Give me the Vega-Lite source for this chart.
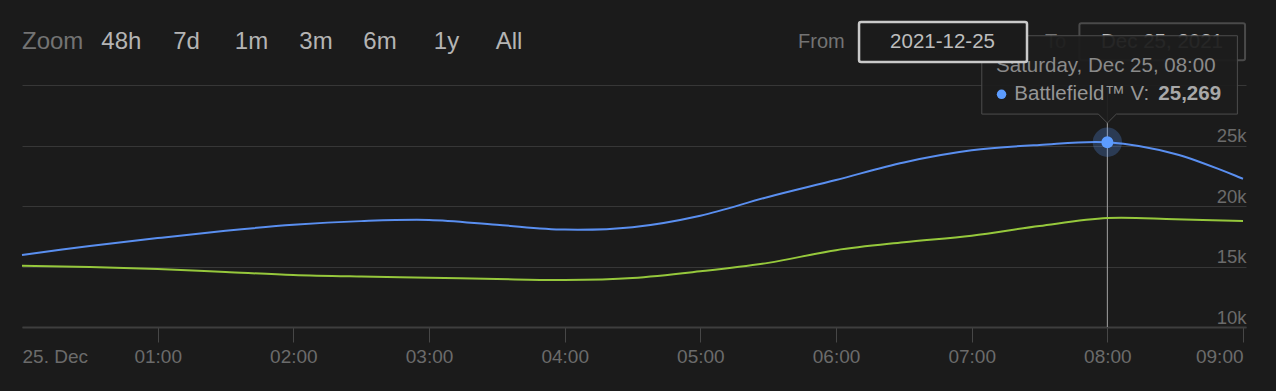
{
  "$schema": "https://vega.github.io/schema/vega-lite/v6.json",
  "autosize": {"type": "none"},
  "width": 1224,
  "height": 242,
  "padding": {"left": 22, "top": 85, "right": 30, "bottom": 64},
  "background": "#1b1b1b",
  "config": {"view": {"stroke": null}, "font": "Liberation Sans"},
  "datasets": {
    "players": [
      {"time": "2021-12-25T00:00:00Z", "game": "Battlefield™ V", "players": 15950},
      {"time": "2021-12-25T00:30:00Z", "game": "Battlefield™ V", "players": 16700},
      {"time": "2021-12-25T01:00:00Z", "game": "Battlefield™ V", "players": 17350},
      {"time": "2021-12-25T01:30:00Z", "game": "Battlefield™ V", "players": 17950},
      {"time": "2021-12-25T02:00:00Z", "game": "Battlefield™ V", "players": 18450},
      {"time": "2021-12-25T02:30:00Z", "game": "Battlefield™ V", "players": 18750},
      {"time": "2021-12-25T03:00:00Z", "game": "Battlefield™ V", "players": 18850},
      {"time": "2021-12-25T03:30:00Z", "game": "Battlefield™ V", "players": 18450},
      {"time": "2021-12-25T04:00:00Z", "game": "Battlefield™ V", "players": 18050},
      {"time": "2021-12-25T04:30:00Z", "game": "Battlefield™ V", "players": 18250},
      {"time": "2021-12-25T05:00:00Z", "game": "Battlefield™ V", "players": 19200},
      {"time": "2021-12-25T05:30:00Z", "game": "Battlefield™ V", "players": 20750},
      {"time": "2021-12-25T06:00:00Z", "game": "Battlefield™ V", "players": 22150},
      {"time": "2021-12-25T06:30:00Z", "game": "Battlefield™ V", "players": 23600},
      {"time": "2021-12-25T07:00:00Z", "game": "Battlefield™ V", "players": 24600},
      {"time": "2021-12-25T07:30:00Z", "game": "Battlefield™ V", "players": 25050},
      {"time": "2021-12-25T08:00:00Z", "game": "Battlefield™ V", "players": 25269},
      {"time": "2021-12-25T08:30:00Z", "game": "Battlefield™ V", "players": 24300},
      {"time": "2021-12-25T09:00:00Z", "game": "Battlefield™ V", "players": 22250},
      {"time": "2021-12-25T00:00:00Z", "game": "Other", "players": 15070},
      {"time": "2021-12-25T00:30:00Z", "game": "Other", "players": 14950},
      {"time": "2021-12-25T01:00:00Z", "game": "Other", "players": 14800},
      {"time": "2021-12-25T01:30:00Z", "game": "Other", "players": 14550},
      {"time": "2021-12-25T02:00:00Z", "game": "Other", "players": 14300},
      {"time": "2021-12-25T02:30:00Z", "game": "Other", "players": 14170},
      {"time": "2021-12-25T03:00:00Z", "game": "Other", "players": 14080},
      {"time": "2021-12-25T03:30:00Z", "game": "Other", "players": 13960},
      {"time": "2021-12-25T04:00:00Z", "game": "Other", "players": 13880},
      {"time": "2021-12-25T04:30:00Z", "game": "Other", "players": 14050},
      {"time": "2021-12-25T05:00:00Z", "game": "Other", "players": 14600},
      {"time": "2021-12-25T05:30:00Z", "game": "Other", "players": 15300},
      {"time": "2021-12-25T06:00:00Z", "game": "Other", "players": 16350},
      {"time": "2021-12-25T06:30:00Z", "game": "Other", "players": 17000},
      {"time": "2021-12-25T07:00:00Z", "game": "Other", "players": 17550},
      {"time": "2021-12-25T07:30:00Z", "game": "Other", "players": 18350},
      {"time": "2021-12-25T08:00:00Z", "game": "Other", "players": 19000},
      {"time": "2021-12-25T08:30:00Z", "game": "Other", "players": 18900},
      {"time": "2021-12-25T09:00:00Z", "game": "Other", "players": 18760}
    ],
    "controls": [
      {"kind": "range-caption", "text": "Zoom", "time": "2021-12-25T00:00:00Z", "level": 32975},
      {"kind": "range-button", "text": "48h", "time": "2021-12-25T00:43:55Z", "level": 32975},
      {"kind": "range-button", "text": "7d", "time": "2021-12-25T01:12:45Z", "level": 32975},
      {"kind": "range-button", "text": "1m", "time": "2021-12-25T01:41:30Z", "level": 32975},
      {"kind": "range-button", "text": "3m", "time": "2021-12-25T02:10:00Z", "level": 32975},
      {"kind": "range-button", "text": "6m", "time": "2021-12-25T02:38:20Z", "level": 32975},
      {"kind": "range-button", "text": "1y", "time": "2021-12-25T03:07:44Z", "level": 32975},
      {"kind": "range-button", "text": "All", "time": "2021-12-25T03:35:23Z", "level": 32975},
      {"kind": "input-caption", "text": "From", "time": "2021-12-25T05:43:12Z", "level": 33058},
      {"kind": "input-caption", "text": "To", "time": "2021-12-25T07:32:26Z", "level": 33058}
    ],
    "inputs": [
      {"name": "From", "text": "2021-12-25", "start": "2021-12-25T06:10:11Z", "end": "2021-12-25T07:24:28Z", "mid": "2021-12-25T06:47:06Z", "top": 35207, "bottom": 31901, "level": 33058},
      {"name": "To", "text": "Dec 25, 2021", "start": "2021-12-25T07:47:38Z", "end": "2021-12-25T09:00:54Z", "mid": "2021-12-25T08:24:11Z", "top": 35099, "bottom": 32036, "level": 33058}
    ]
  },
  "layer": [
    {
      "data": {"name": "players"},
      "transform": [{"filter": "datum.game == 'Battlefield™ V' && utchours(toDate(datum.time)) == 8 && utcminutes(toDate(datum.time)) == 0"}],
      "mark": {"type": "rule", "color": "#a3a3a3", "strokeWidth": 1},
      "encoding": {"x": {"field": "time", "type": "temporal", "title": null}}
    },
    {
      "data": {"name": "players"},
      "mark": {"type": "line", "interpolate": "catmull-rom", "strokeWidth": 2},
      "encoding": {
        "x": {
          "field": "time", "type": "temporal", "title": null,
          "scale": {"type": "utc", "nice": false, "domain": [1640390400000, 1640422879000]},
          "axis": {
            "grid": false,
            "values": [1640390400000, 1640394000000, 1640397600000, 1640401200000, 1640404800000, 1640408400000, 1640412000000, 1640415600000, 1640419200000, 1640422800000],
            "labelExpr": "utchours(datum.value) == 0 ? '25. Dec' : utcFormat(datum.value, '%H:%M')",
            "labelFlush": 5,
            "labelFont": "Liberation Sans", "labelFontSize": 19, "labelColor": "#6b6b6b",
            "labelBaseline": "alphabetic", "labelPadding": 20,
            "labelOverlap": false, "labelBound": false,
            "tickSize": 15, "tickColor": "#474747", "tickWidth": 1,
            "tickOpacity": {"condition": {"test": "utchours(datum.value) == 0", "value": 0}, "value": 1},
            "domainColor": "#3e3e3e", "domainWidth": 2
          }
        },
        "y": {
          "field": "players", "type": "quantitative", "title": null,
          "scale": {"domain": [10000, 30000], "nice": false, "zero": false},
          "axis": {
            "orient": "right", "values": [10000, 15000, 20000, 25000, 30000],
            "grid": true, "gridColor": "#373737", "gridWidth": 1,
            "domain": false, "ticks": false, "tickSize": 0,
            "labelExpr": "datum.value >= 30000 ? '' : (datum.value / 1000) + 'k'",
            "labelAlign": "right", "labelBaseline": "alphabetic", "labelPadding": 0, "labelOffset": -4,
            "labelFont": "Liberation Sans", "labelFontSize": 18.5, "labelColor": "#6b6b6b",
            "labelFlush": false, "labelOverlap": false, "labelBound": false
          }
        },
        "color": {"field": "game", "type": "nominal", "legend": null,
          "scale": {"domain": ["Battlefield™ V", "Other"], "range": ["#5a8ff0", "#96c83c"]}}
      }
    },
    {
      "data": {"name": "players"},
      "transform": [{"filter": "datum.game == 'Battlefield™ V' && utchours(toDate(datum.time)) == 8 && utcminutes(toDate(datum.time)) == 0"}],
      "mark": {"type": "point", "shape": "circle", "filled": true, "fill": "#5c9cff", "opacity": 0.25, "size": 860},
      "encoding": {
        "x": {"field": "time", "type": "temporal", "title": null},
        "y": {"field": "players", "type": "quantitative", "title": null}
      }
    },
    {
      "data": {"name": "controls"},
      "transform": [{"filter": "datum.kind == 'range-caption'"}],
      "mark": {"type": "text", "align": "left", "baseline": "alphabetic", "font": "Liberation Sans", "fontSize": 24, "color": "#737373"},
      "encoding": {
        "x": {"field": "time", "type": "temporal", "title": null},
        "y": {"field": "level", "type": "quantitative", "title": null},
        "text": {"field": "text"}
      }
    },
    {
      "data": {"name": "controls"},
      "transform": [{"filter": "datum.kind == 'range-button'"}],
      "mark": {"type": "text", "align": "center", "baseline": "alphabetic", "font": "Liberation Sans", "fontSize": 24, "color": "#b4b4b4"},
      "encoding": {
        "x": {"field": "time", "type": "temporal", "title": null},
        "y": {"field": "level", "type": "quantitative", "title": null},
        "text": {"field": "text"}
      }
    },
    {
      "data": {"name": "controls"},
      "transform": [{"filter": "datum.kind == 'input-caption'"}],
      "mark": {"type": "text", "align": "left", "baseline": "alphabetic", "font": "Liberation Sans", "fontSize": 20, "color": "#737373"},
      "encoding": {
        "x": {"field": "time", "type": "temporal", "title": null},
        "y": {"field": "level", "type": "quantitative", "title": null},
        "text": {"field": "text"}
      }
    },
    {
      "data": {"name": "inputs"},
      "transform": [{"filter": "datum.name == 'To'"}],
      "mark": {"type": "rect", "fill": "#1b1b1b", "stroke": "#4a4a4a", "strokeWidth": 2, "cornerRadius": 2},
      "encoding": {
        "x": {"field": "start", "type": "temporal", "title": null},
        "x2": {"field": "end"},
        "y": {"field": "top", "type": "quantitative", "title": null},
        "y2": {"field": "bottom"}
      }
    },
    {
      "data": {"name": "inputs"},
      "transform": [{"filter": "datum.name == 'To'"}],
      "mark": {"type": "text", "align": "center", "baseline": "alphabetic", "font": "Liberation Sans", "fontSize": 20.5, "color": "#bdbdbd"},
      "encoding": {
        "x": {"field": "mid", "type": "temporal", "title": null},
        "y": {"field": "level", "type": "quantitative", "title": null},
        "text": {"field": "text"}
      }
    },
    {
      "data": {"name": "players"},
      "transform": [{"filter": "datum.game == 'Battlefield™ V' && utchours(toDate(datum.time)) == 8 && utcminutes(toDate(datum.time)) == 0"}],
      "mark": {"type": "point", "shape": "M -0.981 -0.832 L 1.016 -0.832 L 1.016 -0.22 L 0.07 -0.22 L 0 -0.15 L -0.07 -0.22 L -0.981 -0.22 Z", "size": 65536, "fill": "#1d1d1d", "fillOpacity": 0.94, "stroke": "#4d4d4d", "strokeWidth": 1, "opacity": 1},
      "encoding": {
        "x": {"field": "time", "type": "temporal", "title": null},
        "y": {"field": "players", "type": "quantitative", "title": null}
      }
    },
    {
      "data": {"name": "players"},
      "transform": [
        {"filter": "datum.game == 'Battlefield™ V' && utchours(toDate(datum.time)) == 8 && utcminutes(toDate(datum.time)) == 0"},
        {"calculate": "utcFormat(toDate(datum.time), '%A, %b %d, %H:%M')", "as": "stamp"}
      ],
      "mark": {"type": "text", "align": "left", "baseline": "alphabetic", "font": "Liberation Sans", "fontSize": 20.5, "color": "#8a8a8a", "dx": -111.3, "dy": -70.5},
      "encoding": {
        "x": {"field": "time", "type": "temporal", "title": null},
        "y": {"field": "players", "type": "quantitative", "title": null},
        "text": {"field": "stamp"}
      }
    },
    {
      "data": {"name": "players"},
      "transform": [{"filter": "datum.game == 'Battlefield™ V' && utchours(toDate(datum.time)) == 8 && utcminutes(toDate(datum.time)) == 0"}],
      "mark": {"type": "point", "shape": "circle", "filled": true, "fill": "#5c9cff", "opacity": 1, "size": 90, "xOffset": -105.8, "yOffset": -47.9},
      "encoding": {
        "x": {"field": "time", "type": "temporal", "title": null},
        "y": {"field": "players", "type": "quantitative", "title": null}
      }
    },
    {
      "data": {"name": "players"},
      "transform": [
        {"filter": "datum.game == 'Battlefield™ V' && utchours(toDate(datum.time)) == 8 && utcminutes(toDate(datum.time)) == 0"},
        {"calculate": "datum.game + ':'", "as": "series"}
      ],
      "mark": {"type": "text", "align": "left", "baseline": "alphabetic", "font": "Liberation Sans", "fontSize": 20.5, "color": "#969696", "dx": -93, "dy": -42.2},
      "encoding": {
        "x": {"field": "time", "type": "temporal", "title": null},
        "y": {"field": "players", "type": "quantitative", "title": null},
        "text": {"field": "series"}
      }
    },
    {
      "data": {"name": "players"},
      "transform": [{"filter": "datum.game == 'Battlefield™ V' && utchours(toDate(datum.time)) == 8 && utcminutes(toDate(datum.time)) == 0"}],
      "mark": {"type": "text", "align": "right", "baseline": "alphabetic", "font": "Liberation Sans", "fontSize": 20.5, "fontWeight": "bold", "color": "#a8a8a8", "dx": 113.7, "dy": -42.2},
      "encoding": {
        "x": {"field": "time", "type": "temporal", "title": null},
        "y": {"field": "players", "type": "quantitative", "title": null},
        "text": {"field": "players", "type": "quantitative", "format": ",d"}
      }
    },
    {
      "data": {"name": "inputs"},
      "transform": [{"filter": "datum.name == 'From'"}],
      "mark": {"type": "rect", "fill": "#1b1b1b", "stroke": "#c9c9c9", "strokeWidth": 2.5, "cornerRadius": 2},
      "encoding": {
        "x": {"field": "start", "type": "temporal", "title": null},
        "x2": {"field": "end"},
        "y": {"field": "top", "type": "quantitative", "title": null},
        "y2": {"field": "bottom"}
      }
    },
    {
      "data": {"name": "inputs"},
      "transform": [{"filter": "datum.name == 'From'"}],
      "mark": {"type": "text", "align": "center", "baseline": "alphabetic", "font": "Liberation Sans", "fontSize": 20.5, "color": "#bdbdbd"},
      "encoding": {
        "x": {"field": "mid", "type": "temporal", "title": null},
        "y": {"field": "level", "type": "quantitative", "title": null},
        "text": {"field": "text"}
      }
    },
    {
      "data": {"name": "players"},
      "transform": [{"filter": "datum.game == 'Battlefield™ V' && utchours(toDate(datum.time)) == 8 && utcminutes(toDate(datum.time)) == 0"}],
      "mark": {"type": "point", "shape": "circle", "filled": true, "fill": "#5c9cff", "opacity": 1, "size": 145},
      "encoding": {
        "x": {"field": "time", "type": "temporal", "title": null},
        "y": {"field": "players", "type": "quantitative", "title": null}
      }
    }
  ]
}
